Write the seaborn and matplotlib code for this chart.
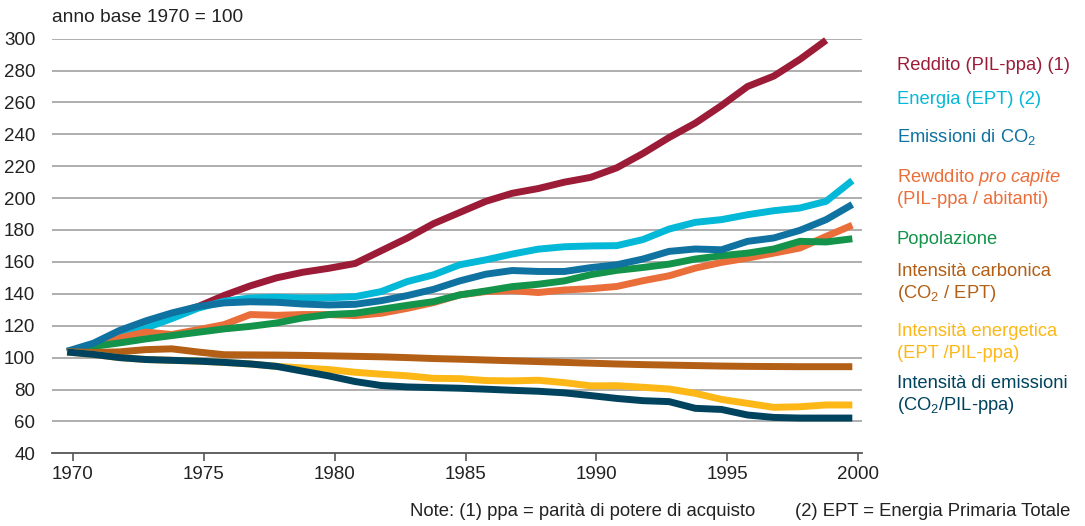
import numpy as np
import pandas as pd
import matplotlib
matplotlib.use("Agg")
import matplotlib.pyplot as plt
import seaborn as sns
from matplotlib import font_manager as fm

years = list(range(1970, 2001))

reddito = [103.5, 108, 115, 122, 127, 132, 139, 145, 150, 153.5, 156, 159, 167, 175, 184,
           191, 198, 203, 206, 210, 213, 219, 228, 238, 247, 258, 270, 276.5, 287, 299]
energia = [103.5, 107, 113.5, 118.5, 124.5, 131, 135.3, 137.4, 137.8, 137.4, 137.5, 138.2, 141.4,
           147.7, 151.9, 158.2, 161.3, 164.9, 168, 169.5, 170, 170.2, 174, 180.6, 184.8, 186.5,
           189.6, 192.1, 193.8, 198, 211]
emissioni = [104, 109, 117, 123, 128, 132, 134.3, 135, 134.7, 133.6, 133, 133.4, 135.7, 138.9,
             142.8, 148.1, 152.3, 154.6, 154, 154, 156.4, 158.2, 161.8, 166.6, 168.1, 167.6,
             172.9, 175, 179.8, 186.5, 196]
procapite = [103.5, 108, 112.3, 116, 114.5, 117.5, 120.7, 127, 126.5, 127, 127, 126.3, 127.8,
             130.9, 134.5, 139.3, 141.4, 142, 140.8, 142.4, 143.2, 144.6, 148.2, 151.3, 156.1,
             159.7, 162.4, 165.5, 168.7, 176, 183]
popolazione = [104, 107, 109.2, 111.7, 113.8, 115.9, 118, 119.6, 121.7, 124.9, 127, 127.8,
               130.3, 132.8, 135.1, 139.3, 141.8, 144.5, 146, 148.1, 152, 154.7, 156.5, 158.6,
               161.8, 163.9, 165.5, 168.1, 172.9, 172.5, 174.5]
carbonica = [103.7, 103.2, 103.6, 105, 105.5, 103.5, 101.8, 101.7, 101.6, 101.4, 101.1, 100.8,
             100.5, 100, 99.4, 99, 98.5, 98, 97.5, 97, 96.5, 96, 95.6, 95.3, 95, 94.7, 94.5,
             94.4, 94.3, 94.3, 94.3]
energetica = [103.5, 102, 100, 98.8, 98.3, 97.8, 97, 96, 94.5, 93.5, 92.5, 90.8, 89.6, 88.6,
              87, 86.8, 85.6, 85.4, 85.8, 84.3, 82.3, 82.4, 81.4, 80.3, 77.6, 73.8, 71.3, 68.8,
              69.2, 70.3, 70.3]
int_emissioni = [103.5, 102, 100, 98.8, 98.3, 97.8, 97, 96, 94.5, 91.5, 88.5, 85, 82.5, 81.6,
                 81.2, 80.8, 80.2, 79.5, 78.9, 77.9, 76.2, 74.4, 73, 72.4, 68.2, 67.5, 64, 62.5,
                 62.1, 62.1, 62.1]

y_ticks = [40, 60, 80, 100, 120, 140, 160, 180, 200, 220, 240, 260, 280, 300]
x_ticks = [1970, 1975, 1980, 1985, 1990, 1995, 2000]

series = [
    ("Reddito", reddito, "#9C1C38"),
    ("Energia", energia, "#04B8D8"),
    ("Pro capite", procapite, "#EA6E3A"),
    ("Popolazione", popolazione, "#14934A"),
    ("Emissioni", emissioni, "#0F72A0"),
    ("Carbonica", carbonica, "#B35F15"),
    ("Energetica", energetica, "#FDB817"),
    ("IntEmissioni", int_emissioni, "#00435E"),
]

labels = [
    (["Reddito (PIL-ppa) (1)"], "#9C1C38", 66),
    (["Energia (EPT) (2)"], "#04B8D8", 99),
    (["Emissioni di CO$_2$"], "#0F72A0", 137),
    (["Rewddito $\\it{pro\\ capite}$", "(PIL-ppa / abitanti)"], "#EA6E3A", 177),
    (["Popolazione"], "#14934A", 239),
    (["Intensità carbonica", "(CO$_2$ / EPT)"], "#B35F15", 271),
    (["Intensità energetica", "(EPT /PIL-ppa)"], "#FDB817", 332),
    (["Intensità di emissioni", "(CO$_2$/PIL-ppa)"], "#00435E", 384),
]

sns.set_theme(style="white")
names = [f.name for f in fm.fontManager.ttflist]
fam = "Liberation Sans Narrow" if "Liberation Sans Narrow" in names else "Liberation Sans"
plt.rcParams["font.family"] = [fam, "DejaVu Sans"]
plt.rcParams["mathtext.fontset"] = "custom"
plt.rcParams["mathtext.rm"] = fam
plt.rcParams["mathtext.it"] = fam + ":italic"
plt.rcParams["mathtext.default"] = "rm"

W, H = 1085, 526
fig = plt.figure(figsize=(W / 100, H / 100), dpi=100)
ax = fig.add_axes([52 / W, 1 - 453.3 / H, (862 - 52) / W, (453.3 - 38.6) / H])

offset = -0.22
for name, vals, col in series:
    df = pd.DataFrame({"x": [y + offset for y in years[:len(vals)]], "y": vals})
    sns.lineplot(data=df, x="x", y="y", ax=ax, color=col, linewidth=5.0,
                 solid_capstyle="butt", solid_joinstyle="round", clip_on=False)

ax.set_xlim(1969.2, 2000.15)
ax.set_ylim(40, 300)
ax.set_xticks(x_ticks)
ax.set_yticks(y_ticks)
ax.set_xticklabels([str(x) for x in x_ticks], fontsize=13.5, color="#222222")
ax.set_yticklabels([str(y) for y in y_ticks], fontsize=13.5, color="#222222")
ax.set_xlabel("")
ax.set_ylabel("")
ax.grid(False)
for yv in y_ticks[1:]:
    ax.axhline(yv, color="#A8A8A8", linewidth=1.3, zorder=0)
for s in ["top", "right", "left"]:
    ax.spines[s].set_visible(False)
ax.spines["bottom"].set_color("#555555")
ax.spines["bottom"].set_linewidth(1.3)
ax.tick_params(axis="x", direction="out", length=6, width=1.2, color="#555555", pad=3, bottom=True)
ax.tick_params(axis="y", length=0, pad=12)

fig.text(52 / W, 1 - 18 / H, "anno base 1970 = 100", fontsize=13.8, color="#222222",
         va="center", ha="left")

for lines, col, ytop in labels:
    for i, t in enumerate(lines):
        fig.text(897 / W, 1 - (ytop + i * 22) / H, t, fontsize=13.2, color=col,
                 va="center", ha="left")

fig.text(410 / W, 1 - 511 / H, "Note: (1) ppa = parità di potere di acquisto",
         fontsize=13.3, color="#222222", va="center", ha="left")
fig.text(795 / W, 1 - 511 / H, "(2) EPT = Energia Primaria Totale",
         fontsize=13.3, color="#222222", va="center", ha="left")

fig.savefig("out.png", dpi=100)
